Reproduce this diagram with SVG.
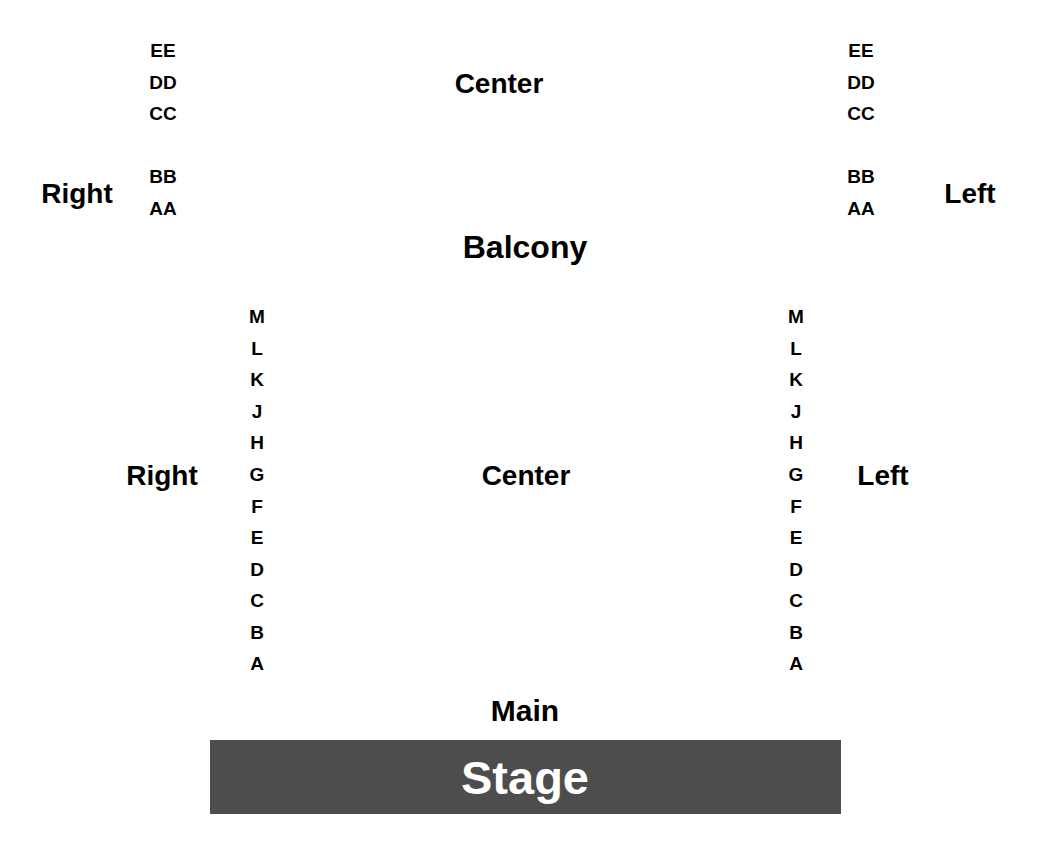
<svg xmlns="http://www.w3.org/2000/svg" width="1050" height="850" viewBox="0 0 1050 850">
<style>
text{font-family:"Liberation Sans",Arial,sans-serif;font-weight:bold;text-anchor:middle;fill:#000}
.row{font-size:19px}
.sec{font-size:28px}
.big{font-size:32px}
</style>
<rect width="1050" height="850" fill="#fff"/>
<g id="balcony-right-rows">
<text class="row" x="163" y="57">EE</text>
<text class="row" x="163" y="89">DD</text>
<text class="row" x="163" y="120">CC</text>
<text class="row" x="163" y="183">BB</text>
<text class="row" x="163" y="215">AA</text>
</g>
<g id="balcony-left-rows">
<text class="row" x="861" y="57">EE</text>
<text class="row" x="861" y="89">DD</text>
<text class="row" x="861" y="120">CC</text>
<text class="row" x="861" y="183">BB</text>
<text class="row" x="861" y="215">AA</text>
</g>
<g id="balcony-labels">
<text class="sec" x="77" y="203">Right</text>
<text class="sec" x="499" y="93">Center</text>
<text class="sec" x="970" y="203">Left</text>
<text class="big" x="525" y="258">Balcony</text>
</g>
<g id="main-right-rows">
<text class="row" x="257" y="323">M</text>
<text class="row" x="257" y="355">L</text>
<text class="row" x="257" y="386">K</text>
<text class="row" x="257" y="418">J</text>
<text class="row" x="257" y="449">H</text>
<text class="row" x="257" y="481">G</text>
<text class="row" x="257" y="513">F</text>
<text class="row" x="257" y="544">E</text>
<text class="row" x="257" y="576">D</text>
<text class="row" x="257" y="607">C</text>
<text class="row" x="257" y="639">B</text>
<text class="row" x="257" y="670">A</text>
</g>
<g id="main-left-rows">
<text class="row" x="796" y="323">M</text>
<text class="row" x="796" y="355">L</text>
<text class="row" x="796" y="386">K</text>
<text class="row" x="796" y="418">J</text>
<text class="row" x="796" y="449">H</text>
<text class="row" x="796" y="481">G</text>
<text class="row" x="796" y="513">F</text>
<text class="row" x="796" y="544">E</text>
<text class="row" x="796" y="576">D</text>
<text class="row" x="796" y="607">C</text>
<text class="row" x="796" y="639">B</text>
<text class="row" x="796" y="670">A</text>
</g>
<g id="main-labels">
<text class="sec" x="162" y="485">Right</text>
<text class="sec" x="526" y="485">Center</text>
<text class="sec" x="883" y="485">Left</text>
<text x="525" y="721" style="font-size:30px">Main</text>
</g>
<g id="stage">
<rect x="210" y="740" width="631" height="74" fill="#4d4d4d"/>
<text x="525" y="794" style="font-size:47px;fill:#fff">Stage</text>
</g>
</svg>
